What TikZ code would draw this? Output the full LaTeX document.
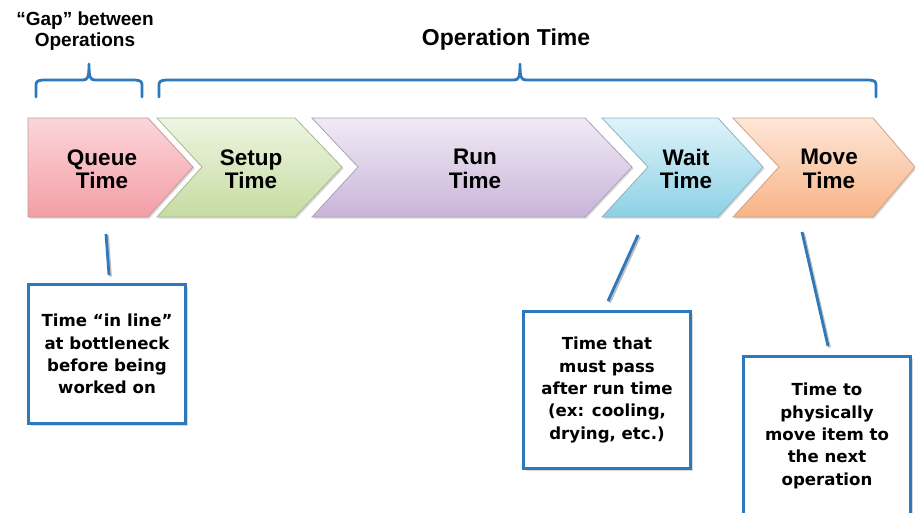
\documentclass[tikz,border=0pt]{standalone}
\usepackage{fontspec}
\setmainfont{Liberation Sans}
\newfontfamily\dvs{DejaVu Sans}
\usetikzlibrary{shadows}
\definecolor{brkblue}{RGB}{46,120,188}
\definecolor{qtop}{HTML}{FBD6D9}\definecolor{qbot}{HTML}{F39EA6}\definecolor{qbrd}{HTML}{C29A9E}
\definecolor{stop}{HTML}{EEF5E2}\definecolor{sbot}{HTML}{C6DCA1}\definecolor{sbrd}{HTML}{A8B891}
\definecolor{rtop}{HTML}{F1EBF5}\definecolor{rbot}{HTML}{C8B4D8}\definecolor{rbrd}{HTML}{ADA0B8}
\definecolor{wtop}{HTML}{E0F3FA}\definecolor{wbot}{HTML}{8CD1E5}\definecolor{wbrd}{HTML}{8DB3BF}
\definecolor{mtop}{HTML}{FEE7D8}\definecolor{mbot}{HTML}{F8B386}\definecolor{mbrd}{HTML}{CDA386}
\begin{document}
\begin{tikzpicture}[x=1pt,y=-1pt,
  chevron/.style 2 args={top color=#1, bottom color=#2, line width=0.8pt,
    drop shadow={shadow xshift=1.5pt,shadow yshift=-1.5pt,opacity=.3}},
  chevlabel/.style={font=\bfseries\fontsize{22.5}{23.5}\selectfont, align=center, inner sep=0pt},
  toplabel/.style={font=\bfseries\fontsize{19}{21}\selectfont, align=center, inner sep=0pt},
  brace/.style={draw=brkblue, line width=2.8pt, line cap=round, line join=round},
  callout/.style={draw=brkblue, line width=3pt, fill=white, inner sep=0pt,
    drop shadow={shadow xshift=2pt,shadow yshift=-2pt,opacity=.3},
    font=\dvs\bfseries\fontsize{16.6}{22.3}\selectfont, align=center},
  leader/.style={draw=brkblue, line width=2.8pt,
    preaction={draw=black, opacity=.25, line width=2.8pt, transform canvas={xshift=1.5pt,yshift=-1.5pt}}}]
\useasboundingbox (0,0) rectangle (915,512);
\clip (0,0) rectangle (915,512);
% chevrons
\path[chevron={qtop}{qbot}, draw=qbrd] (28,118) -- (148,118) -- (193,167) -- (148,217) -- (28,217) -- cycle;
\path[chevron={stop}{sbot}, draw=sbrd] (157,118) -- (295,118) -- (342,167) -- (295,217) -- (157,217) -- (202,167) -- cycle;
\path[chevron={rtop}{rbot}, draw=rbrd] (312,118) -- (585,118) -- (632,167) -- (585,217) -- (312,217) -- (358,167) -- cycle;
\path[chevron={wtop}{wbot}, draw=wbrd] (602,118) -- (718,118) -- (763,167) -- (718,217) -- (602,217) -- (648,167) -- cycle;
\path[chevron={mtop}{mbot}, draw=mbrd] (733,118) -- (873,118) -- (915,167) -- (873,217) -- (733,217) -- (779,167) -- cycle;
\node[chevlabel] (queue) at (102,169) {Queue\\Time};
\node[chevlabel] (setup) at (251,169) {Setup\\Time};
\node[chevlabel] (run) at (475,169) {Run\\Time};
\node[chevlabel] (wait) at (686,169) {Wait\\Time};
\node[chevlabel] (move) at (829,169) {Move\\Time};
% braces
\draw[brace] (36,97) -- (36,88) .. controls (36,81) .. (43,80) -- (83,80)
  .. controls (88,80) and (89,77) .. (89,64) .. controls (89,77) and (90,80) .. (95,80)
  -- (135,80) .. controls (142,81) .. (142,88) -- (142,97);
\draw[brace] (159,97) -- (159,88) .. controls (159,81) .. (166,80) -- (514,80)
  .. controls (519,80) and (520,77) .. (520,64) .. controls (520,77) and (521,80) .. (526,80)
  -- (869,80) .. controls (876,81) .. (876,88) -- (876,97);
\node[toplabel] (gap) at (85,31) {“Gap” between\\Operations};
\node[font=\bfseries\fontsize{23}{25}\selectfont, inner sep=0pt] (optime) at (506,40) {Operation Time};
% callouts
\node[callout, minimum width=157pt, minimum height=139pt] (qbox) at (107,354)
  {Time “in line”\\at bottleneck\\before being\\worked on};
\node[callout, minimum width=167pt, minimum height=157pt] (wbox) at (607,390)
  {Time that\\must pass\\after run time\\(ex: cooling,\\drying, etc.)};
\node[callout, minimum width=167pt, minimum height=159pt] (mbox) at (827,436)
  {Time to\\physically\\move item to\\the next\\operation};
\coordinate (qa) at (106,234); \coordinate (qb) at (109,275);
\coordinate (wa) at (638,235); \coordinate (wb) at (608,301);
\coordinate (ma) at (802,232); \coordinate (mb) at (828,346);
\draw[leader] (qa) -- (qb);
\draw[leader] (wa) -- (wb);
\draw[leader] (ma) -- (mb);
\end{tikzpicture}
\end{document}
